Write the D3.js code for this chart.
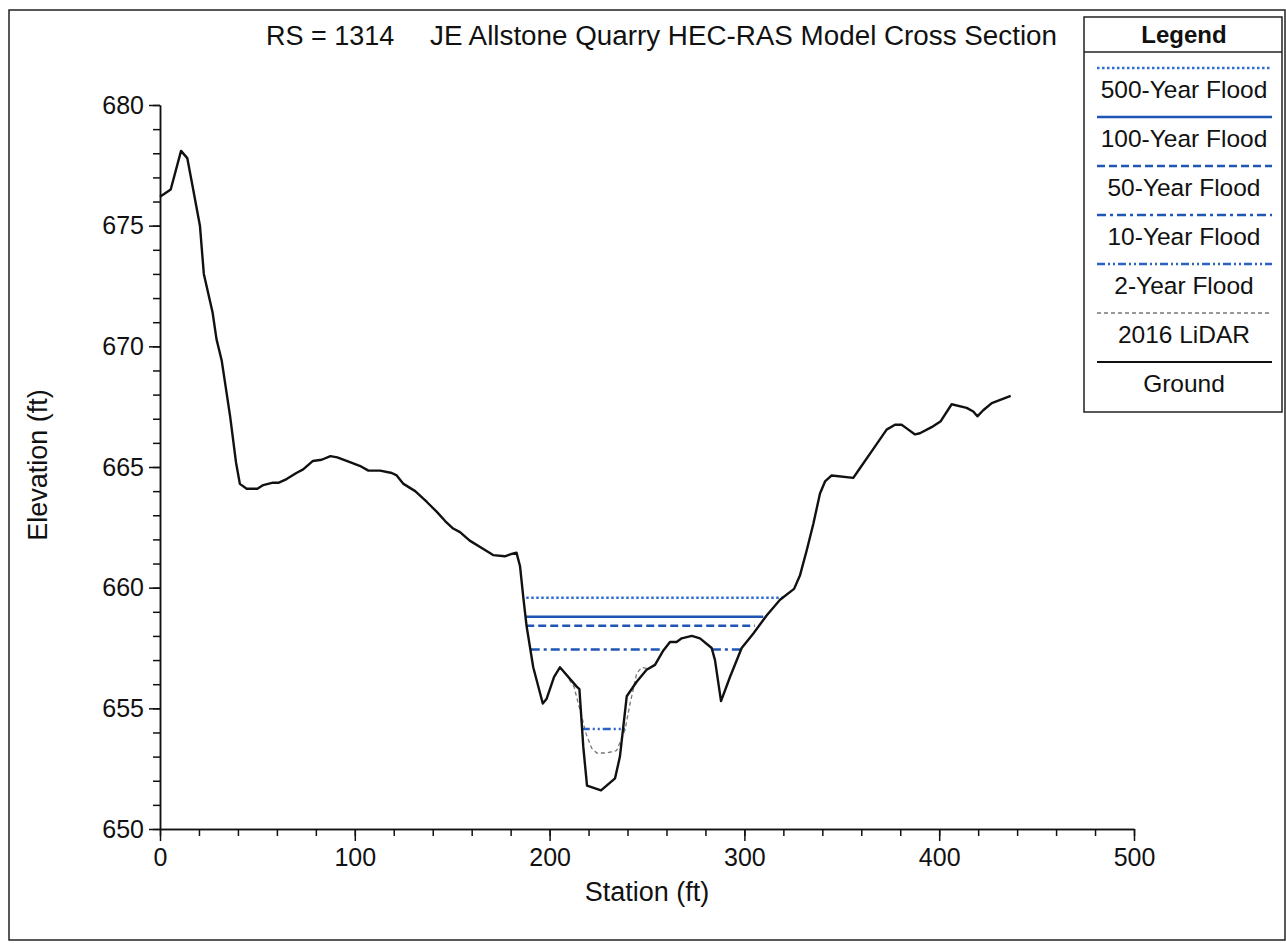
<!DOCTYPE html>
<html>
<head>
<meta charset="utf-8">
<script src="https://cdn.jsdelivr.net/npm/d3@7/dist/d3.min.js"></script>
<style>
  body { margin: 0; background: #fff; }
  text { font-family: "Liberation Sans", Arial, sans-serif; fill: #111; }
</style>
</head>
<body>
<div id="chart"></div>
<script>
// ground profile (station ft, elevation ft)
var groundStation = [0, 5.5, 10.8, 14, 16.8, 20.5, 22.5, 27, 29, 31.7, 36, 39, 41, 44.5, 50, 53, 58, 61, 65, 70,
    73.5, 78.5, 83, 87.5, 91, 97.5, 102.5, 107, 113, 119, 121.5, 125, 131, 137, 142, 146.5, 150.5, 154, 159, 166,
    171, 177, 180.5, 183, 184.8, 186.5, 188.2, 191.6, 196.5, 198.5, 202.3, 205.3, 213.9, 215.3, 217.3, 219.2, 226.4,
    233.6, 236.1, 239.6, 244.7, 249.8, 254.1, 258.4, 261.8, 265.2, 267.8, 273, 277.2, 283.2, 284.9, 288, 292.6,
    298.6, 304.6, 311.4, 318.3, 325.5, 328.5, 332, 335.4, 338.8, 341.4, 344.8, 355.9, 359.3, 366.2, 373, 377.3,
    380.7, 383.3, 387.6, 390.1, 396.1, 400.8, 406.4, 414.1, 417.5, 419.6, 422.6, 427, 436.7];
var groundElev = [676.2, 676.5, 678.1, 677.8, 676.6, 675.0, 673.0, 671.4, 670.3, 669.4, 667.1, 665.2, 664.3, 664.1,
    664.1, 664.25, 664.35, 664.35, 664.5, 664.75, 664.9, 665.25, 665.3, 665.45, 665.4, 665.2, 665.05, 664.85,
    664.85, 664.75, 664.65, 664.3, 664.0, 663.55, 663.15, 662.75, 662.45, 662.3, 661.95, 661.6, 661.35, 661.3,
    661.4, 661.45, 660.9, 659.6, 658.4, 656.7, 655.2, 655.4, 656.3, 656.7, 655.9, 655.8, 653.4, 651.8, 651.6,
    652.1, 653.0, 655.5, 656.1, 656.6, 656.8, 657.4, 657.75, 657.75, 657.9, 658.0, 657.9, 657.5, 657.0, 655.3,
    656.3, 657.5, 658.1, 658.85, 659.5, 659.95, 660.5, 661.55, 662.65, 663.9, 664.4, 664.65, 664.55, 664.95,
    665.75, 666.55, 666.75, 666.75, 666.6, 666.35, 666.4, 666.65, 666.9, 667.6, 667.45, 667.3, 667.1, 667.35,
    667.65, 667.95];

// 2016 LiDAR, only where it leaves the ground line
var lidarStation = [210, 212.5, 216.5, 218.7, 221.6, 224.2, 229.3, 234.4, 238.7, 241.3, 242.7, 244.7, 247.3, 250];
var lidarElev = [656.2, 655.9, 654.65, 653.95, 653.35, 653.15, 653.15, 653.25, 654.1, 655.2, 655.7, 656.45, 656.7, 656.65];

// water surfaces
var floodNames = ["500-Year Flood", "100-Year Flood", "50-Year Flood", "10-Year Flood", "2-Year Flood"];
var floodWse = [659.58, 658.8, 658.42, 657.44, 654.14];
var floodExtents = [
    [[188, 320]],
    [[187.5, 309.7]],
    [[188, 305.4]],
    [[190.3, 258], [283.3, 297.9]],
    [[216.5, 238.7]]
];

var xTicks = [0, 100, 200, 300, 400, 500];
var yTicks = [650, 655, 660, 665, 670, 675, 680];

var W = 1286, H = 943;
var blue = "#1f55b3";
var floodStyle = [
    { color: "#2f6fd4", dash: "2.5,2.5" },
    { color: blue, dash: null },
    { color: blue, dash: "8,4" },
    { color: blue, dash: "9,4,3,4" },
    { color: "#2a62c4", dash: "8,3,2,3,2,3" }
];

var svg = d3.select("#chart")
    .append("svg")
    .attr("width", W)
    .attr("height", H);

svg.append("rect")
    .attr("x", 9).attr("y", 10)
    .attr("width", 1276).attr("height", 930)
    .attr("fill", "none")
    .attr("stroke", "#222")
    .attr("stroke-width", 1.5);

var x = d3.scaleLinear().domain([0, 500]).range([160, 1134]);
var y = d3.scaleLinear().domain([650, 680]).range([829, 105]);

// minor ticks first, then major axis on top
svg.append("g")
    .attr("transform", "translate(0,829)")
    .call(d3.axisBottom(x).tickValues(d3.range(0, 501, 20)).tickSize(7).tickFormat("").tickSizeOuter(0));
svg.append("g")
    .attr("transform", "translate(160,0)")
    .call(d3.axisLeft(y).tickValues(d3.range(650, 681, 1)).tickSize(7).tickFormat("").tickSizeOuter(0));

svg.append("g")
    .attr("transform", "translate(0,829)")
    .call(d3.axisBottom(x).tickValues(xTicks).tickSize(12).tickPadding(7).tickSizeOuter(0));
svg.append("g")
    .attr("transform", "translate(160,0)")
    .call(d3.axisLeft(y).tickValues(yTicks).tickSize(11).tickPadding(5).tickSizeOuter(0));

svg.selectAll(".tick line, .domain")
    .attr("stroke", "#111")
    .attr("stroke-width", 1.5);
svg.selectAll(".tick text")
    .style("font-size", "25px")
    .style("font-family", "'Liberation Sans', Arial, sans-serif")
    .attr("fill", "#111");

// lidar (under ground)
svg.append("path")
    .datum(d3.zip(lidarStation, lidarElev))
    .attr("fill", "none")
    .attr("stroke", "#777")
    .attr("stroke-width", 1.3)
    .attr("stroke-dasharray", "4,3")
    .attr("d", d3.line()
        .x(function (d) { return x(d[0]) })
        .y(function (d) { return y(d[1]) })
    );

// water surface lines
floodNames.forEach(function (name, i) {
    floodExtents[i].forEach(function (seg) {
        svg.append("line")
            .attr("x1", x(seg[0])).attr("x2", x(seg[1]))
            .attr("y1", y(floodWse[i])).attr("y2", y(floodWse[i]))
            .attr("stroke", floodStyle[i].color)
            .attr("stroke-width", 2.5)
            .attr("stroke-dasharray", floodStyle[i].dash);
    });
});

// ground
svg.append("path")
    .datum(d3.zip(groundStation, groundElev))
    .attr("fill", "none")
    .attr("stroke", "#111")
    .attr("stroke-width", 2.4)
    .attr("stroke-linejoin", "round")
    .attr("d", d3.line()
        .x(function (d) { return x(d[0]) })
        .y(function (d) { return y(d[1]) })
    );

// title
svg.append("text")
    .attr("x", 266).attr("y", 45)
    .style("font-size", "27px")
    .text("RS = 1314");
svg.append("text")
    .attr("x", 430).attr("y", 45)
    .style("font-size", "27px")
    .attr("textLength", 627)
    .attr("lengthAdjust", "spacingAndGlyphs")
    .text("JE Allstone Quarry HEC-RAS Model Cross Section");

// axis labels
svg.append("text")
    .attr("text-anchor", "middle")
    .style("font-size", "27px")
    .attr("x", 647)
    .attr("y", 901)
    .text("Station (ft)");

svg.append("text")
    .attr("text-anchor", "middle")
    .style("font-size", "27px")
    .attr("transform", "translate(47,465) rotate(-90)")
    .text("Elevation (ft)");

// legend
var lg = svg.append("g");
lg.append("rect")
    .attr("x", 1084).attr("y", 17)
    .attr("width", 198).attr("height", 395)
    .attr("fill", "#fff")
    .attr("stroke", "#222")
    .attr("stroke-width", 1.5);
lg.append("line")
    .attr("x1", 1084).attr("x2", 1282)
    .attr("y1", 52).attr("y2", 52)
    .attr("stroke", "#222")
    .attr("stroke-width", 1.5);
lg.append("text")
    .attr("x", 1184).attr("y", 43)
    .attr("text-anchor", "middle")
    .style("font-size", "24px")
    .style("font-weight", "bold")
    .text("Legend");

var legendItems = floodNames.map(function (n, i) {
    return { label: n, color: floodStyle[i].color, dash: floodStyle[i].dash, w: 2.5 };
});
legendItems.push({ label: "2016 LiDAR", color: "#777", dash: "4,3", w: 1.5 });
legendItems.push({ label: "Ground", color: "#111", dash: null, w: 2.2 });

legendItems.forEach(function (d, i) {
    var ly = 68 + i * 49;
    lg.append("line")
        .attr("x1", 1097).attr("x2", 1272)
        .attr("y1", ly).attr("y2", ly)
        .attr("stroke", d.color)
        .attr("stroke-width", d.w)
        .attr("stroke-dasharray", d.dash);
    lg.append("text")
        .attr("x", 1184).attr("y", ly + 30)
        .attr("text-anchor", "middle")
        .style("font-size", "24.5px")
        .text(d.label);
});
</script>
</body>
</html>
